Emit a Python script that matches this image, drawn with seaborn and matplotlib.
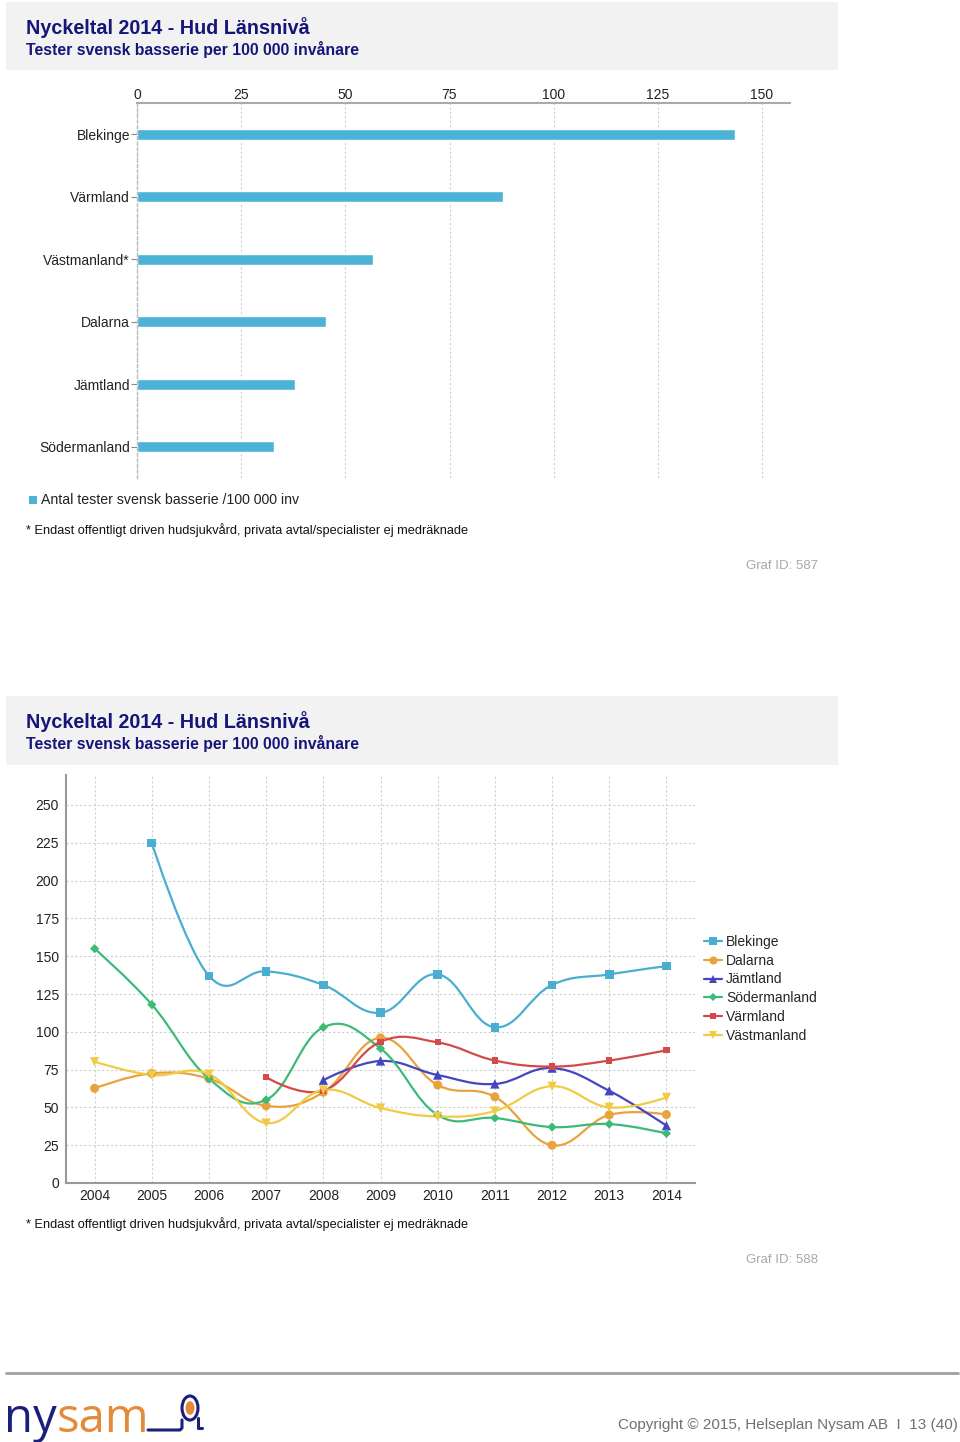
import numpy as np
import pandas as pd
import matplotlib
matplotlib.use("Agg")
import matplotlib.pyplot as plt
import seaborn as sns
from matplotlib.path import Path
from matplotlib.patches import PathPatch, Rectangle, Circle
from matplotlib.lines import Line2D

# ---- data ----
bar_regions = ["Blekinge", "Värmland", "Västmanland*", "Dalarna", "Jämtland", "Södermanland"]
bar_values = [143.4, 87.8, 56.6, 45.3, 37.9, 32.8]
bar_label = "Antal tester svensk basserie /100 000 inv"

years = ["2004", "2005", "2006", "2007", "2008", "2009", "2010", "2011", "2012", "2013", "2014"]
nan = np.nan
blekinge = [nan, 225, 137, 140, 131, 112.6, 138, 103, 131, 138, 143.4]
dalarna = [62.6, 72.5, 69, 51, 60, 96, 64.8, 57, 25, 45, 45.3]
jamtland = [nan, nan, nan, nan, 68, 80.7, 71.4, 65.5, 76, 61, 37.9]
sodermanland = [155, 118, 69, 55, 103, 89, 45, 43, 37, 39, 32.8]
varmland = [nan, nan, nan, 70, 61, 93.4, 93, 81, 77, 81, 87.8]
vastmanland = [80.2, 71.4, 72, 39.7, 61.5, 49.6, 44, 47.6, 64, 50, 56.6]

series_names = ["Blekinge", "Dalarna", "Jämtland", "Södermanland", "Värmland", "Västmanland"]
series_values = [blekinge, dalarna, jamtland, sodermanland, varmland, vastmanland]

title = "Nyckeltal 2014 - Hud Länsnivå"
subtitle = "Tester svensk basserie per 100 000 invånare"
footnote = "* Endast offentligt driven hudsjukvård, privata avtal/specialister ej medräknade"

# ---- style ----
colors = {"Blekinge": "#4aaed0", "Dalarna": "#e9a33c", "Jämtland": "#4545c2",
          "Södermanland": "#3dba78", "Värmland": "#d24a4a", "Västmanland": "#f0cb45"}
markers = {"Blekinge": "s", "Dalarna": "o", "Jämtland": "^",
           "Södermanland": "D", "Värmland": "s", "Västmanland": "v"}
msizes = {"Blekinge": 38, "Dalarna": 42, "Jämtland": 45,
          "Södermanland": 22, "Värmland": 20, "Västmanland": 45}
navy = "#15157a"
grid_c = "#cfcfcf"

sns.set_theme(style="white")
plt.rcParams["font.family"] = ["Liberation Sans", "DejaVu Sans"]

W, H = 960, 1442
fig = plt.figure(figsize=(W / 100, H / 100), dpi=100)


def fx(px):
    return px / W


def fy(py):
    return 1 - py / H


def header(top, bottom, ty, sy):
    fig.patches.append(Rectangle((fx(6), fy(bottom)), fx(838 - 6), (bottom - top) / H,
                                 transform=fig.transFigure, facecolor="#f2f2f2",
                                 edgecolor="none", zorder=0))
    fig.text(fx(26), fy(ty), title, fontsize=14.2, fontweight="bold", color=navy, va="center")
    fig.text(fx(26), fy(sy), subtitle, fontsize=11.4, fontweight="bold", color=navy, va="center")


# ---- chart 1: horizontal bars ----
header(2, 70, 28, 50)

ax1 = fig.add_axes([fx(137), fy(478), fx(790 - 137), (478 - 103) / H])
bar_df = pd.DataFrame({"region": bar_regions, "value": bar_values})
sns.barplot(data=bar_df, x="value", y="region", orient="h", color="#4db3d6",
            saturation=1, width=0.17, ax=ax1)
ax1.set_xlim(0, 150 * (790 - 137) / 625)
ax1.set_ylim(len(bar_regions) - 0.5, -0.5)
ax1.set_xticks([0, 25, 50, 75, 100, 125, 150])
ax1.xaxis.tick_top()
ax1.tick_params(axis="x", length=0, pad=1, labelsize=10, colors="#222222")
ax1.tick_params(axis="y", length=4, width=0.8, color="#888888", pad=1, labelsize=10,
                labelcolor="#222222", left=True)
ax1.set_xlabel("")
ax1.set_ylabel("")
for s in ["right", "bottom"]:
    ax1.spines[s].set_visible(False)
ax1.spines["top"].set_color("#aaaaaa")
ax1.spines["top"].set_linewidth(1.5)
ax1.spines["left"].set_color("#bbbbbb")
ax1.spines["left"].set_linestyle((0, (2, 2)))
ax1.spines["left"].set_linewidth(1)
ax1.grid(axis="x", color=grid_c, linestyle=(0, (2, 2)), linewidth=0.8)
ax1.set_axisbelow(True)

fig.patches.append(Rectangle((fx(29), fy(504)), fx(8), 8 / H, transform=fig.transFigure,
                             facecolor="#4db3d6", edgecolor="none"))
fig.text(fx(41), fy(500), bar_label, fontsize=10.2, color="#222222", va="center")
fig.text(fx(26), fy(530), footnote, fontsize=9.2, color="#111111", va="center")
fig.text(fx(818), fy(566), "Graf ID: 587", fontsize=9.5, color="#a8a8a8", va="center", ha="right")

# ---- chart 2: smooth lines ----
header(696, 765, 722, 744)

ax2 = fig.add_axes([fx(66), fy(1183), fx(695 - 66), (1183 - 775) / H])


def spline_path(xs, ys):
    # highcharts-style spline: cubic bezier control points from neighbours
    sm = 1.5
    d = sm + 1
    n = len(xs)
    lc, rc = [], []
    for i in range(n):
        if 0 < i < n - 1:
            lx = (sm * xs[i] + xs[i - 1]) / d
            ly = (sm * ys[i] + ys[i - 1]) / d
            rx = (sm * xs[i] + xs[i + 1]) / d
            ry = (sm * ys[i] + ys[i + 1]) / d
            corr = ((ry - ly) * (rx - xs[i])) / (rx - lx) + ys[i] - ry
            lc.append((lx, ly + corr))
            rc.append((rx, ry + corr))
        else:
            lc.append((xs[i], ys[i]))
            rc.append((xs[i], ys[i]))
    verts = [(xs[0], ys[0])]
    codes = [Path.MOVETO]
    for i in range(1, n):
        verts += [rc[i - 1], lc[i], (xs[i], ys[i])]
        codes += [Path.CURVE4] * 3
    return Path(verts, codes)


rows = []
for name, vals in zip(series_names, series_values):
    idx = [i for i, v in enumerate(vals) if not np.isnan(v)]
    xs = idx
    ys = [vals[i] for i in idx]
    ax2.add_patch(PathPatch(spline_path(xs, ys), fill=False, edgecolor=colors[name],
                            linewidth=1.6, zorder=3))
    for i in idx:
        rows.append({"x": i, "y": vals[i], "Län": name})
pts = pd.DataFrame(rows)
sns.scatterplot(data=pts, x="x", y="y", hue="Län", style="Län", size="Län",
                palette=colors, markers=markers, sizes=msizes, linewidth=0,
                legend=False, zorder=4, ax=ax2)

ax2.set_xlim(-0.5, 10.5)
ax2.set_ylim(0, 250 + 30 / 1.512)
ax2.set_xticks(range(len(years)))
ax2.set_xticklabels(years)
ax2.set_yticks([0, 25, 50, 75, 100, 125, 150, 175, 200, 225, 250])
ax2.tick_params(axis="both", length=0, labelsize=10, colors="#222222")
ax2.tick_params(axis="x", pad=4)
ax2.tick_params(axis="y", pad=5)
ax2.set_xlabel("")
ax2.set_ylabel("")
for s in ["right", "top"]:
    ax2.spines[s].set_visible(False)
for s in ["left", "bottom"]:
    ax2.spines[s].set_color("#999999")
    ax2.spines[s].set_linewidth(1.5)
ax2.grid(True, color=grid_c, linestyle=(0, (2, 2)), linewidth=0.8)
ax2.set_axisbelow(True)

handles = [Line2D([0], [0], color=colors[n], marker=markers[n], lw=1.6,
                  markersize=np.sqrt(msizes[n]) * 0.9, markeredgewidth=0) for n in series_names]
fig.legend(handles, series_names, loc="upper left", bbox_to_anchor=(fx(704), fy(935)),
           frameon=False, fontsize=10, handlelength=1.3, handletextpad=0.3,
           labelspacing=0.34, borderaxespad=0, borderpad=0)

fig.text(fx(26), fy(1224), footnote, fontsize=9.2, color="#111111", va="center")
fig.text(fx(818), fy(1260), "Graf ID: 588", fontsize=9.5, color="#a8a8a8", va="center", ha="right")

# ---- footer ----
fig.lines.append(Line2D([fx(6), fx(958)], [fy(1373), fy(1373)], transform=fig.transFigure,
                        color="#a0a0a0", linewidth=2))
t1 = fig.text(fx(4), fy(1432), "ny", fontsize=34, color="#1a1f7a", va="baseline",
              family=["Open Sans", "DejaVu Sans"])
fig.canvas.draw()
bb = t1.get_window_extent()
fig.text(bb.x1 / W, fy(1432), "sam", fontsize=34, color="#e58a3a", va="baseline",
         family=["Open Sans", "DejaVu Sans"])
fig.lines.append(Line2D([fx(148), fx(180), fx(182), fx(182)],
                        [fy(1430), fy(1430), fy(1428), fy(1420)], transform=fig.transFigure,
                        color="#1a1f7a", linewidth=2.2))
fig.patches.append(Circle((fx(190), fy(1408)), 8 / W, transform=fig.transFigure,
                          facecolor="none", edgecolor="#1a1f7a", linewidth=2.2))
fig.patches.append(Circle((fx(190), fy(1408)), 4.5 / W, transform=fig.transFigure,
                          facecolor="#e58a3a", edgecolor="none"))
fig.lines.append(Line2D([fx(198), fx(198), fx(202)], [fy(1418), fy(1428), fy(1428)],
                        transform=fig.transFigure, color="#1a1f7a", linewidth=2.2))
fig.text(fx(958), fy(1425), "Copyright © 2015, Helseplan Nysam AB  I  13 (40)", fontsize=11,
         color="#707070", ha="right", va="center",
         family=["Liberation Sans Narrow", "Liberation Sans", "DejaVu Sans"])

fig.savefig("out.png", dpi=100)
